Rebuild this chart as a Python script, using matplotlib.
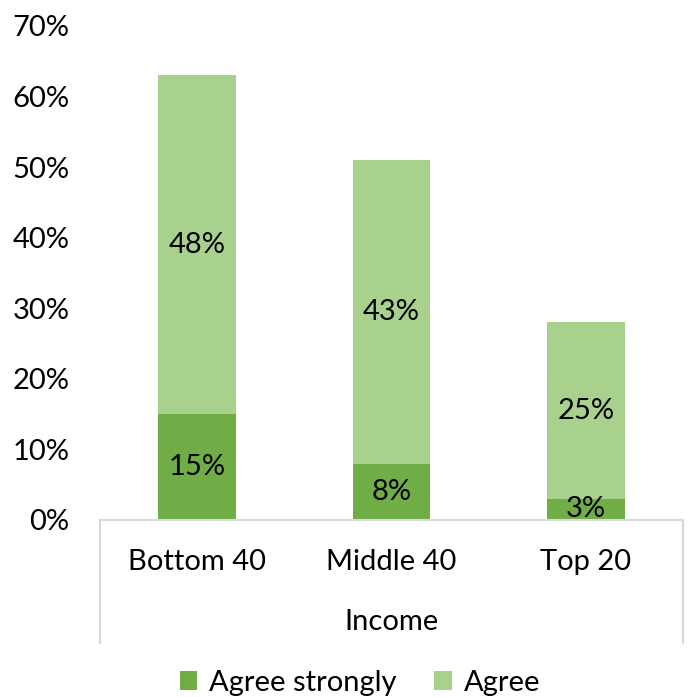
import matplotlib.pyplot as plt
import numpy as np

plt.rcParams['font.family'] = ['Lato', 'DejaVu Sans']

groups = ['Bottom 40', 'Middle 40', 'Top 20']
agree_strongly = [15, 8, 3]
agree = [48, 43, 25]
y_ticks = [0, 10, 20, 30, 40, 50, 60, 70]

dark = '#70AD47'
light = '#A9D18E'
axis_grey = '#D9D9D9'
fs = 21

fig = plt.figure(figsize=(6.92, 6.97), dpi=100)
ax = fig.add_axes([100 / 692, 1 - 520 / 697, 583 / 692, 494 / 697])

x = np.arange(len(groups))
ax.bar(x, agree_strongly, width=0.4, color=dark, label='Agree strongly')
ax.bar(x, agree, width=0.4, bottom=agree_strongly, color=light, label='Agree')

# value labels in the middle of each segment
for i in range(len(groups)):
    ax.text(x[i], agree_strongly[i] / 2, f'{agree_strongly[i]}%',
            ha='center', va='center', fontsize=fs)
    ax.text(x[i], agree_strongly[i] + agree[i] / 2, f'{agree[i]}%',
            ha='center', va='center', fontsize=fs)

ax.set_xlim(-0.5, 2.5)
ax.set_ylim(0, 70)
ax.set_yticks(y_ticks)
ax.set_yticklabels([f'{t}%' for t in y_ticks], fontsize=fs)
ax.tick_params(axis='y', length=0, pad=22)
ax.set_xticks([])

for s in ['top', 'right', 'left']:
    ax.spines[s].set_visible(False)
ax.spines['bottom'].set_color(axis_grey)
ax.spines['bottom'].set_linewidth(1.5)

# grouped category axis: outer dividers, category names, group title
for xv in [-0.5, 2.5]:
    ax.plot([xv, xv], [0, -17.4], color=axis_grey, lw=1.5, clip_on=False)
for i, g in enumerate(groups):
    ax.text(x[i], -5.9, g, ha='center', va='center', fontsize=fs)
ax.text(1, -14.5, 'Income', ha='center', va='center', fontsize=fs)

ax.legend(loc='center', bbox_to_anchor=(0.446, -0.33), ncol=2, frameon=False,
          fontsize=fs, handlelength=0.6, handleheight=0.6, handletextpad=0.4,
          columnspacing=1.3)

fig.savefig('out.png', dpi=100)
